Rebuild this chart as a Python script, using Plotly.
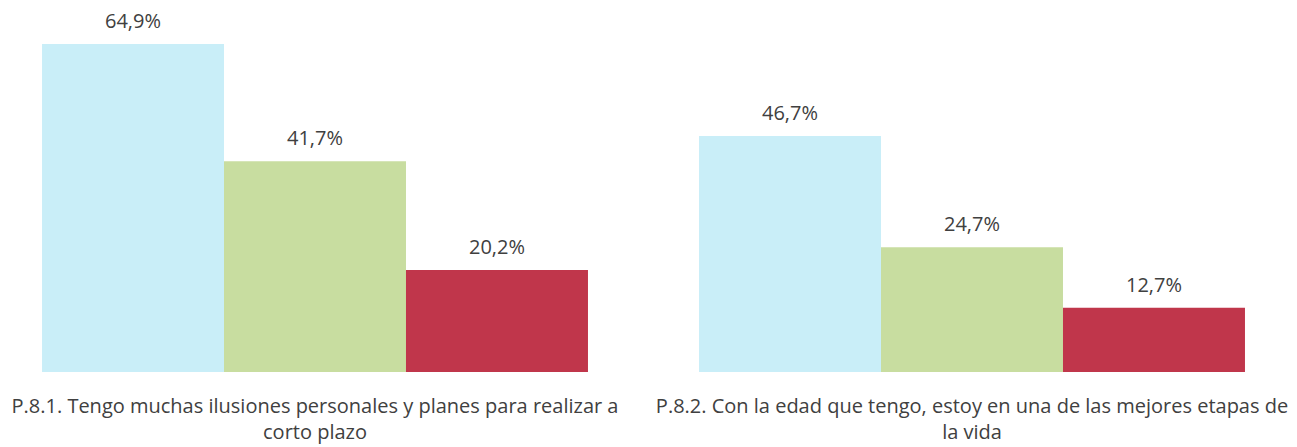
import plotly.graph_objects as go

categories = [
    "P.8.1. Tengo muchas ilusiones personales y planes para realizar a<br>corto plazo",
    "P.8.2. Con la edad que tengo, estoy en una de las mejores etapas de<br>la vida",
]
series_names = ["Serie 1", "Serie 2", "Serie 3"]
serie1 = [64.9, 46.7]
serie2 = [41.7, 24.7]
serie3 = [20.2, 12.7]
colors = ["#C9EEF8", "#C8DDA0", "#C0364B"]

BARGAP = 0.169
xs = list(range(len(categories)))
all_series = [serie1, serie2, serie3]
n = len(all_series)
w = (1 - BARGAP) / n

fig = go.Figure()
annotations = []
for j, (name, vals, col) in enumerate(zip(series_names, all_series, colors)):
    fig.add_trace(go.Bar(
        x=xs, y=vals, name=name,
        marker=dict(color=col, line=dict(width=0)),
        hoverinfo="y",
    ))
    for i, v in zip(xs, vals):
        annotations.append(dict(
            x=i + (j - (n - 1) / 2) * w, y=v, xref="x", yref="y",
            text=f"{v:.1f}%".replace(".", ","),
            showarrow=False, yanchor="bottom", yshift=8,
            font=dict(family="Open Sans", size=20, color="#404040"),
        ))

fig.update_layout(
    width=1297, height=447,
    margin=dict(l=0, r=0, t=0, b=83),
    paper_bgcolor="white", plot_bgcolor="white",
    barmode="group", bargap=BARGAP, bargroupgap=0,
    showlegend=False,
    separators=",.",
    font=dict(family="Open Sans", color="#404040"),
    annotations=annotations,
)
fig.update_xaxes(
    range=[-307 / 657, 990 / 657],
    tickvals=xs, ticktext=categories,
    showgrid=False, showline=False, zeroline=False, ticks="",
    tickfont=dict(family="Open Sans", size=20, color="#404040"),
    ticklabelstandoff=20, automargin=False,
)
fig.update_yaxes(range=[0, 72.0], visible=False, showgrid=False)

fig.write_html("out.html")
